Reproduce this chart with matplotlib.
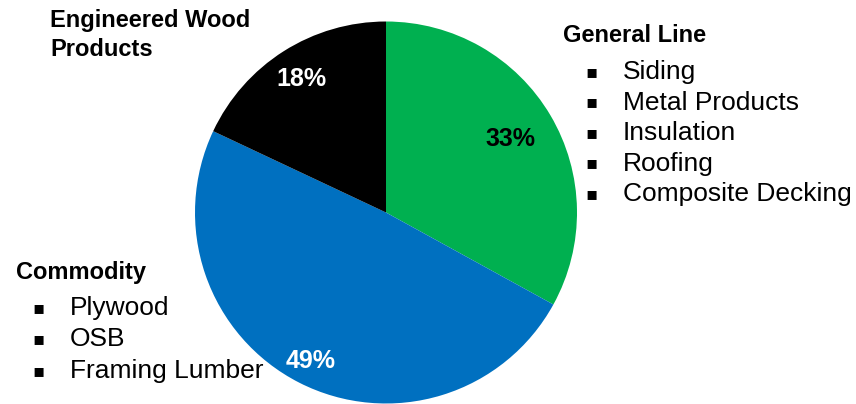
import numpy as np
import matplotlib
matplotlib.use("Agg")
import matplotlib.pyplot as plt

# revenue mix by segment
segments = ["General Line", "Commodity", "Engineered Wood Products"]
shares = [33, 49, 18]
colors = ["#00B050", "#0070C0", "#000000"]
pct_colors = ["black", "white", "white"]
pct_dist = [0.76, 0.87, 0.83]

general_items = ["Siding", "Metal Products", "Insulation", "Roofing", "Composite Decking"]
commodity_items = ["Plywood", "OSB", "Framing Lumber"]

W, H = 856, 404
fig = plt.figure(figsize=(W / 100, H / 100), dpi=100)
ax = fig.add_axes([0, 0, 1, 1])

cx, cy, r = 386, H - 212.5, 191
wedges, _ = ax.pie(shares, colors=colors, startangle=90, counterclock=False,
                   center=(cx, cy), radius=r, frame=False,
                   wedgeprops=dict(linewidth=0))
ax.set_xlim(0, W)
ax.set_ylim(0, H)
ax.set_aspect("equal")
ax.axis("off")

font = "Liberation Sans"

# percentage labels inside each wedge
for w, s, c, d in zip(wedges, shares, pct_colors, pct_dist):
    mid = np.deg2rad((w.theta1 + w.theta2) / 2)
    ax.text(cx + d * r * np.cos(mid), cy + d * r * np.sin(mid), f"{s}%",
            ha="center", va="center", color=c, fontsize=18, fontweight="bold",
            family=font)

# segment headings
hsize = 17
ax.text(50, H - 20, "Engineered Wood", ha="left", va="center",
        fontsize=hsize, fontweight="bold", family=font)
ax.text(50, H - 50, "Products", ha="left", va="center",
        fontsize=hsize, fontweight="bold", family=font)
ax.text(563, H - 35, "General Line", ha="left", va="center",
        fontsize=hsize, fontweight="bold", family=font)
ax.text(16, H - 273, "Commodity", ha="left", va="center",
        fontsize=hsize, fontweight="bold", family=font)


def bullet_list(items, xb, xt, y0, step):
    for i, item in enumerate(items):
        y = H - (y0 + i * step)
        ax.text(xb, y, "\u25aa", ha="center", va="center", fontsize=13,
                family="DejaVu Sans")
        ax.text(xt, y, item, ha="left", va="center", fontsize=19, family=font)


bullet_list(general_items, 592, 623, 72, 30.5)
bullet_list(commodity_items, 39, 70, 308, 31.5)

fig.savefig("out.png", dpi=100)
